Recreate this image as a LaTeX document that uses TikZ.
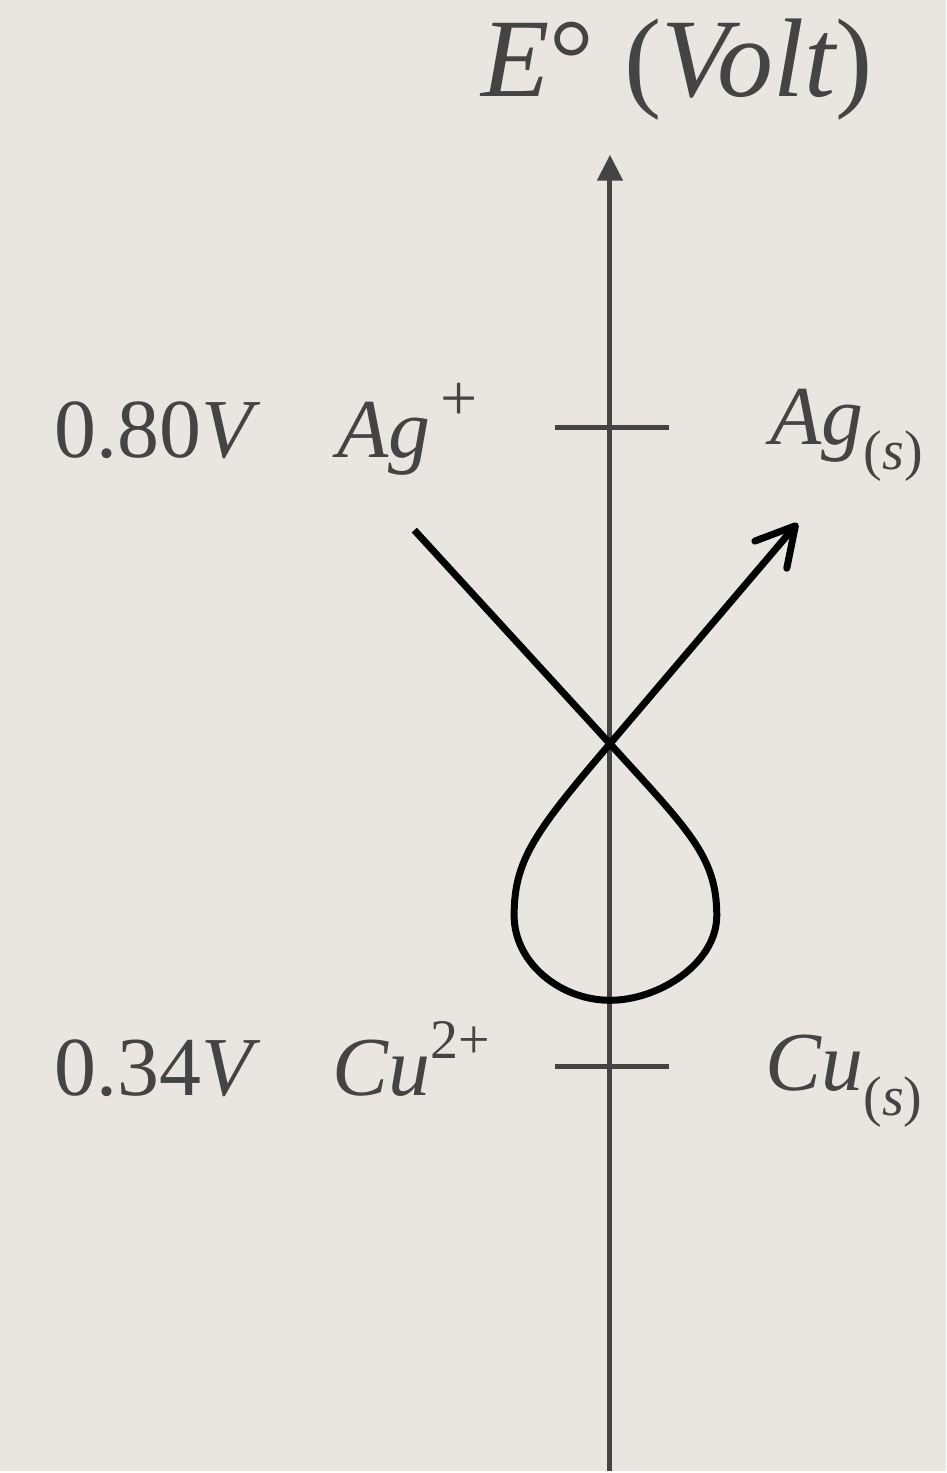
\documentclass[tikz,border=0pt]{standalone}
\usepackage{fontspec}
\setmainfont{Liberation Serif}
\usetikzlibrary{arrows.meta}
\definecolor{bg}{RGB}{233,230,225}
\definecolor{ink}{RGB}{68,68,68}
\newcommand\mysup[2][28]{\raisebox{18.5pt}{\fontsize{#1}{#1}\selectfont #2}}
\newcommand\mysub[1]{\raisebox{-12.5pt}{\fontsize{28}{28}\selectfont #1}}
\tikzset{
  lbl/.style={anchor=base west,inner sep=0pt,outer sep=0pt,text=ink,font=\fontsize{42}{42}\selectfont},
  ttl/.style={anchor=base west,inner sep=0pt,outer sep=0pt,text=ink,font=\fontsize{56}{56}\selectfont},
  axis/.style={draw=ink,line width=2.5pt},
  tick/.style={draw=ink,line width=2.5pt},
  curve/.style={draw=black,line width=3.5pt},
}
\begin{document}
\begin{tikzpicture}[x=0.5pt,y=0.5pt]
\path[fill=bg] (0,0) rectangle (948,-1473);
% axis
\coordinate (axbot) at (611,-1473);
\coordinate (axtop) at (611,-155);
\draw[axis,-{Triangle[length=13pt,width=12.5pt]}] (axbot) -- (axtop);
% ticks
\coordinate (t1l) at (556,-428); \coordinate (t1r) at (670,-428);
\coordinate (t2l) at (556,-1068); \coordinate (t2r) at (670,-1068);
\draw[tick] (t1l) -- (t1r);
\draw[tick] (t2l) -- (t2r);
% labels
\node[ttl] (title) at (482,-97) {\itshape E\upshape°\kern1pt\ (\itshape Volt\upshape)};
\node[lbl] (v1) at (55,-458) {0.80\itshape V};
\node[lbl] (ag) at (338,-458) {\itshape Ag\kern5pt\mysup[33]{\upshape +}};
\node[lbl] (ags) at (772,-445) {\itshape Ag\mysub{\upshape(\itshape s\upshape)}};
\node[lbl] (v2) at (55,-1097) {0.34\itshape V};
\node[lbl] (cu) at (333,-1097) {\itshape Cu\mysup{\upshape 2+}};
\node[lbl] (cus) at (767,-1092) {\itshape Cu\mysub{\upshape(\itshape s\upshape)}};
% curve
\coordinate (A) at (415,-531);
\coordinate (C) at (611,-745);
\coordinate (R) at (718,-917);
\coordinate (B) at (611,-1002);
\coordinate (L) at (515,-917);
\coordinate (E) at (799,-524);
\draw[curve,line join=round,-{Straight Barb[length=19pt,width=21pt,round]}]
  (A) -- (C) .. controls (690,-832) and (718,-858) .. (R)
  .. controls (718,-965) and (660,-1002) .. (B)
  .. controls (562,-1002) and (515,-965) .. (L)
  .. controls (515,-862) and (535,-834) .. (C) -- (E);
\end{tikzpicture}
\end{document}
